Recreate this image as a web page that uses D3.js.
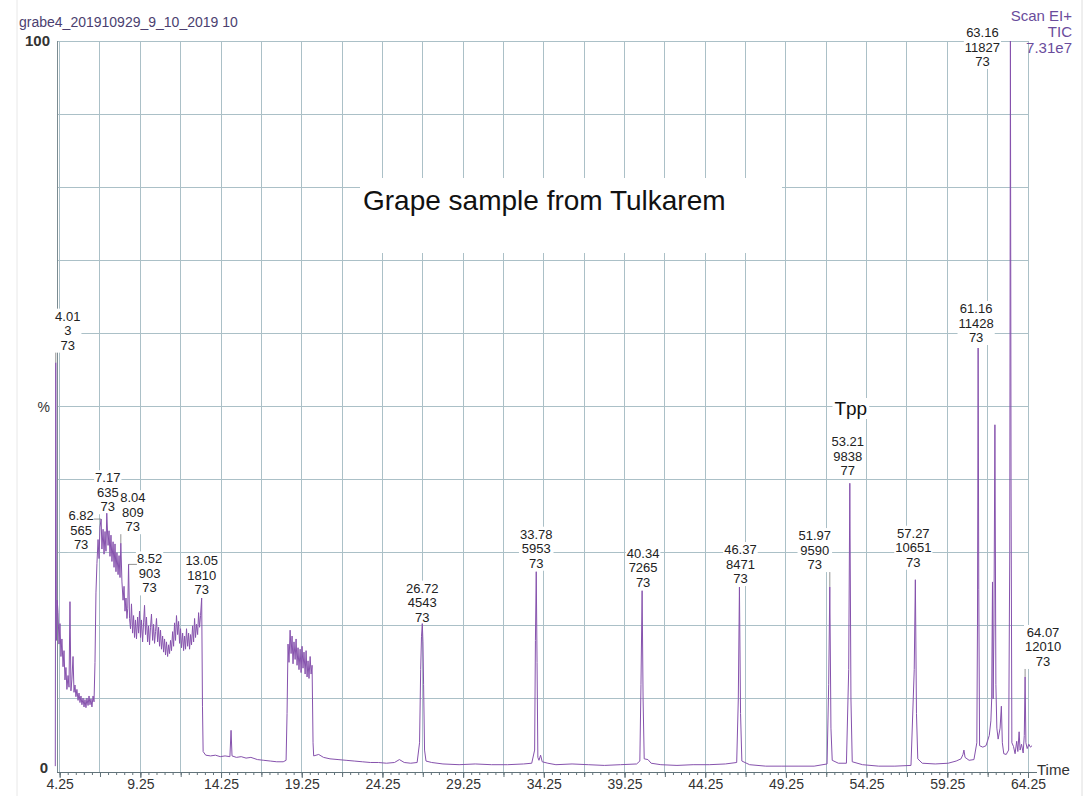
<!DOCTYPE html>
<html>
<head>
<meta charset="utf-8">
<script src="https://cdn.jsdelivr.net/npm/d3@7"></script>
<style>
  body { margin: 0; background: #fff; }
  svg { display: block; font-family: "Liberation Sans", Arial, sans-serif; }
</style>
</head>
<body>
<div id="chart"></div>
<script>
// TIC trace: retention time (min) and relative abundance (%)
const retTime = [
  3.98, 4.01, 4.05, 4.10,
  4.15, 4.21, 4.27, 4.33, 4.39, 4.46, 4.52, 4.58, 4.64, 4.70,
  4.77, 4.83, 4.89, 4.95, 5.01, 5.08, 5.14, 5.20, 5.26, 5.32,
  5.39, 5.45, 5.51, 5.57, 5.63, 5.70, 5.76, 5.82, 5.88, 5.94,
  6.01, 6.07, 6.13, 6.19, 6.25, 6.32, 6.38, 6.44, 6.50, 6.56,
  6.63, 6.69, 6.75, 6.82, 6.87, 6.94, 7.00, 7.06, 7.12, 7.17,
  7.25, 7.31, 7.37, 7.43, 7.49, 7.56, 7.62, 7.68, 7.74, 7.80,
  7.87, 7.93, 7.99, 8.04, 8.11, 8.18, 8.24, 8.30, 8.36, 8.42,
  8.47, 8.52, 8.58, 8.64, 8.70, 8.77, 8.83, 8.89, 8.95, 9.01,
  9.08, 9.14, 9.20, 9.26, 9.32, 9.39, 9.45, 9.51, 9.57, 9.63,
  9.70, 9.76, 9.82, 9.88, 9.94, 10.01, 10.07, 10.13, 10.19, 10.25,
  10.32, 10.38, 10.44, 10.50, 10.56, 10.63, 10.69, 10.75, 10.81, 10.87,
  10.94, 11.00, 11.06, 11.12, 11.18, 11.25, 11.31, 11.37, 11.43, 11.49,
  11.56, 11.62, 11.68, 11.74, 11.80, 11.87, 11.93, 11.99, 12.05, 12.11,
  12.18, 12.24, 12.30, 12.36, 12.42, 12.49, 12.55, 12.61, 12.67, 12.73,
  12.80, 12.86, 12.92, 12.98, 13.05, 13.10, 13.14,
  13.30, 13.60, 13.90, 14.20, 14.50, 14.80, 14.87, 14.93, 15.20, 15.50,
  15.80, 16.10, 16.50, 16.90, 17.30, 17.70, 18.10, 18.28, 18.34,
  18.40, 18.46, 18.53, 18.59, 18.65, 18.71, 18.77, 18.84, 18.90, 18.96,
  19.02, 19.08, 19.15, 19.21, 19.27, 19.33, 19.39, 19.46, 19.52, 19.58,
  19.64, 19.70, 19.77, 19.83, 19.89, 19.95, 19.99,
  20.30, 20.60, 21.00, 21.50, 22.00, 22.50, 23.00, 23.50, 24.00, 24.50,
  25.00, 25.30, 25.60, 26.00, 26.40, 26.55, 26.62, 26.67, 26.72, 26.76,
  26.80, 26.86, 26.95, 27.30, 28.00, 29.00, 30.00, 31.00, 32.00, 33.00,
  33.50, 33.68, 33.73, 33.78, 33.83, 33.88, 33.95, 34.05, 34.15, 34.50,
  35.00, 36.00, 37.00, 38.00, 39.00, 40.00, 40.20, 40.27, 40.34, 40.40,
  40.47, 40.70, 40.90, 41.50, 42.50, 43.50, 44.50, 45.50, 46.20, 46.30,
  46.37, 46.44, 46.52, 47.00, 48.00, 49.00, 50.00, 51.00, 51.80, 51.90,
  51.97, 52.04, 52.12, 52.50, 53.00, 53.14, 53.21, 53.28, 53.36, 54.00,
  55.00, 56.00, 57.00, 57.20, 57.27, 57.34, 57.42, 57.70, 58.50, 59.30,
  59.80, 60.10, 60.22, 60.28, 60.35, 60.60, 60.90, 61.08, 61.12, 61.16,
  61.20, 61.25, 61.45, 61.65, 61.85, 61.95, 62.00, 62.05, 62.09, 62.14,
  62.20, 62.26, 62.32, 62.40, 62.52, 62.60, 62.66, 62.75, 62.90, 63.05,
  63.12, 63.16, 63.20, 63.25, 63.35, 63.45, 63.55, 63.62, 63.70, 63.76,
  63.85, 63.95, 64.02, 64.07, 64.12, 64.20, 64.30, 64.40, 64.50
];
const relAbund = [
  0.8, 56.0, 18.0, 23.5,
  21.8, 17.5, 20.3, 15.8, 18.2, 14.4, 16.6, 12.6, 14.3, 11.3,
  13.2, 11.6, 23.3, 11.1, 12.7, 15.8, 10.9, 11.9, 10.3, 11.3,
  9.8, 10.8, 9.5, 10.4, 9.2, 10.1, 8.9, 9.9, 8.8, 10.1,
  9.1, 10.4, 9.2, 10.0, 8.9, 10.4, 9.6, 15.0, 24.5, 28.5,
  31.8, 29.2, 33.5, 34.6, 30.5, 33.2, 29.8, 32.9, 30.2, 35.4,
  31.0, 33.0, 29.5, 32.4, 28.8, 31.5, 28.0, 31.2, 27.4, 30.0,
  27.0, 29.6, 26.6, 31.3, 26.0, 23.5, 25.4, 22.0, 23.8, 21.0,
  22.4, 28.4, 21.0, 19.6, 23.0, 19.0, 21.4, 18.4, 20.8, 18.2,
  21.2, 19.0, 22.0, 18.4, 20.8, 17.8, 20.4, 22.8, 18.8, 21.2,
  17.8, 20.0, 17.4, 19.8, 21.6, 18.0, 20.2, 17.6, 19.2, 21.0,
  17.8, 19.8, 17.2, 19.4, 16.8, 18.6, 16.4, 18.2, 16.0, 17.8,
  15.8, 17.4, 16.2, 18.0, 16.6, 19.2, 17.2, 20.4, 18.0, 21.4,
  18.8, 20.6, 17.6, 19.6, 17.0, 19.0, 16.6, 18.6, 16.8, 19.6,
  17.2, 19.0, 16.8, 18.8, 17.4, 20.0, 17.8, 21.0, 18.4, 20.2,
  18.8, 21.8, 19.8, 21.4, 23.8, 9.0, 2.8,
  2.3, 2.2, 2.3, 2.1, 2.2, 2.1, 5.7, 2.2, 2.0, 2.1,
  1.9, 2.0, 1.7, 1.6, 1.5, 1.4, 1.4, 1.6, 8.0,
  17.5, 15.0, 19.4, 16.2, 18.6, 14.8, 17.8, 15.4, 18.2, 14.6,
  17.0, 14.0, 16.8, 13.6, 17.2, 14.2, 16.4, 13.4, 16.6, 13.0,
  15.2, 12.8, 15.8, 13.4, 14.6, 4.0, 2.2,
  2.4, 2.0, 1.8, 1.7, 1.6, 1.5, 1.4, 1.3, 1.3, 1.2,
  1.3, 1.7, 1.3, 1.2, 1.3, 4.0, 14.0, 18.5, 20.3, 17.8,
  12.0, 3.0, 1.5, 1.3, 1.1, 1.0, 1.1, 1.0, 1.0, 1.1,
  1.2, 3.0, 18.0, 27.4, 15.0, 2.0, 1.6, 2.3, 1.4, 1.2,
  1.0, 1.1, 1.0, 0.9, 1.0, 1.1, 1.5, 12.0, 24.8, 10.0,
  1.8, 1.7, 1.2, 1.0, 0.9, 1.0, 1.0, 1.1, 1.3, 10.0,
  25.3, 8.0, 1.5, 1.0, 0.8, 0.8, 0.8, 0.8, 1.1, 12.0,
  25.3, 6.0, 1.6, 1.2, 1.2, 14.0, 39.5, 10.0, 1.4, 1.0,
  0.8, 0.8, 0.9, 14.0, 26.3, 8.0, 1.8, 1.2, 1.1, 1.2,
  1.5, 1.8, 2.4, 3.0, 2.0, 1.6, 1.7, 4.0, 20.0, 58.0,
  25.0, 3.6, 3.4, 3.6, 5.0, 7.0, 10.0, 26.0, 10.0, 20.0,
  47.5, 12.0, 6.0, 4.5, 6.0, 9.0, 4.0, 2.5, 2.4, 3.0,
  30.0, 100, 40.0, 4.0, 3.5, 2.5, 4.2, 2.8, 5.5, 3.0,
  3.8, 2.6, 5.0, 13.0, 4.0, 3.2, 3.8, 3.4, 3.6
];

// labelled peaks: retention time / scan number / base peak m/z
const peakRT   = [4.01, 6.82, 7.17, 8.04, 8.52, 13.05, 26.72, 33.78, 40.34, 46.37, 51.97, 53.21, 57.27, 61.16, 63.16, 64.07];
const peakScan = [3, 565, 635, 809, 903, 1810, 4543, 5953, 7265, 8471, 9590, 9838, 10651, 11428, 11827, 12010];
const peakMass = [73, 73, 73, 73, 73, 73, 73, 73, 73, 73, 73, 77, 73, 73, 73, 73];

const xTickValues = [4.25, 9.25, 14.25, 19.25, 24.25, 29.25, 34.25, 39.25, 44.25, 49.25, 54.25, 59.25, 64.25];
const xTickLabels = ["4.25", "9.25", "14.25", "19.25", "24.25", "29.25", "34.25", "39.25", "44.25", "49.25", "54.25", "59.25", "64.25"];

// where each peak label sits relative to its peak top: [dx, dy of last line, leader line]
const labelNudge = {
  "4.01": [12, -13, true], "6.82": [-20, 30, true], "7.17": [1, -2, false], "8.04": [12, -12, true],
  "8.52": [21, 28, true], "13.05": [0, -4, false], "26.72": [0, -2, false], "33.78": [0, -4, false],
  "40.34": [1, -4, false], "46.37": [1, -4, false], "51.97": [-15, -18, true], "53.21": [-2, -8, false],
  "57.27": [-2, -13, false], "61.16": [-2, -6, false], "63.16": [-28, 25, false], "64.07": [18, -11, true]
};

const width = 1087, height = 796;
const gridColor = "#abc0c7";
const traceColor = "#8652ad";

const x = d3.scaleLinear().domain([4.25, 64.25]).range([59.65, 1028]);
const y = d3.scaleLinear().domain([0, 100]).range([772, 41]);
const xStart = 4.086, xEnd = 64.8;

const svg = d3.select("#chart").append("svg")
  .attr("width", width)
  .attr("height", height);

// faint scan edges of the page
svg.append("line").attr("x1", 17).attr("x2", 17).attr("y1", 0).attr("y2", height)
  .attr("stroke", "#e8e8e8");
svg.append("line").attr("x1", 1082).attr("x2", 1082).attr("y1", 0).attr("y2", height)
  .attr("stroke", "#dedede");

// grid: every 2.5 min and every 10 %
const grid = svg.append("g").attr("shape-rendering", "crispEdges");
grid.selectAll("line.v")
  .data(d3.range(4.25, 64.26, 2.5))
  .join("line")
  .attr("class", "v")
  .attr("x1", d => x(d)).attr("x2", d => x(d))
  .attr("y1", y(0)).attr("y2", y(100))
  .attr("stroke", gridColor);
grid.selectAll("line.h")
  .data(d3.range(10, 101, 10))
  .join("line")
  .attr("class", "h")
  .attr("x1", x(xStart)).attr("x2", x(64.25))
  .attr("y1", d => y(d)).attr("y2", d => y(d))
  .attr("stroke", gridColor);

// left axis line
svg.append("line")
  .attr("x1", x(xStart)).attr("x2", x(xStart))
  .attr("y1", y(0)).attr("y2", y(100))
  .attr("stroke", "#7b8c92")
  .attr("shape-rendering", "crispEdges");

// x axis
const xAxisG = svg.append("g").attr("transform", "translate(0," + y(0) + ")");
xAxisG.append("line")
  .attr("x1", x(xStart)).attr("x2", x(xEnd))
  .attr("stroke", "#62737a")
  .attr("shape-rendering", "crispEdges");

const minorG = xAxisG.append("g")
  .call(d3.axisBottom(x).tickValues(d3.range(4.25, 64.3, 0.5)).tickSize(3).tickFormat(""));
const midG = xAxisG.append("g")
  .call(d3.axisBottom(x).tickValues(d3.range(4.25, 64.3, 2.5)).tickSize(5).tickFormat(""));
const majorG = xAxisG.append("g")
  .call(d3.axisBottom(x).tickValues(xTickValues).tickSize(6).tickPadding(1)
    .tickFormat((d, i) => xTickLabels[i]));
[minorG, midG, majorG].forEach(g => {
  g.select(".domain").remove();
  g.selectAll(".tick line").attr("stroke", "#62737a");
});
majorG.selectAll(".tick text")
  .attr("font-size", 14)
  .attr("font-family", "Liberation Sans, Arial, sans-serif")
  .attr("fill", "#333");

svg.append("text")
  .attr("x", 1037).attr("y", 775)
  .attr("font-size", 15).attr("fill", "#333")
  .text("Time");

// y axis labels
const yLab = svg.append("g").attr("text-anchor", "end").attr("fill", "#333");
yLab.append("text").attr("x", 50).attr("y", y(100)).attr("dy", "0.36em")
  .attr("font-size", 15).attr("font-weight", "bold").text("100");
yLab.append("text").attr("x", 48).attr("y", y(0) - 4).attr("dy", "0.36em")
  .attr("font-size", 15).attr("font-weight", "bold").text("0");
yLab.append("text").attr("x", 50).attr("y", y(50)).attr("dy", "0.36em")
  .attr("font-size", 14).text("%");

// header texts
svg.append("text").attr("x", 19).attr("y", 27)
  .attr("font-size", 14).attr("fill", "#4b3f70")
  .text("grabe4_201910929_9_10_2019 10");
const hdr = svg.append("g").attr("text-anchor", "end").attr("font-size", 15).attr("fill", "#6a4c9c");
["Scan EI+", "TIC", "7.31e7"].forEach((s, i) => {
  hdr.append("text").attr("x", 1072).attr("y", 21 + i * 16).text(s);
});

// sample caption in a white box
svg.append("rect")
  .attr("x", 360).attr("y", 178).attr("width", 422).attr("height", 75)
  .attr("fill", "#fff");
svg.append("text")
  .attr("x", 363).attr("y", 210)
  .attr("font-size", 28).attr("fill", "#111")
  .text("Grape sample from Tulkarem");

// peak labels
const traceAt = t => relAbund[d3.minIndex(retTime, r => Math.abs(r - t))];
const lineH = 14.5;
const labels = peakRT.map((rt, i) => {
  const key = rt.toFixed(2);
  const nudge = labelNudge[key];
  const px = x(rt), py = y(traceAt(rt));
  return {
    lines: [key, String(peakScan[i]), String(peakMass[i])],
    px: px, py: py,
    cx: px + nudge[0],
    base: py + nudge[1],
    leader: nudge[2]
  };
});

const bgLayer = svg.append("g");
const traceLayer = svg.append("g");
const textLayer = svg.append("g").attr("font-size", 13).attr("fill", "#222").attr("text-anchor", "middle");

labels.forEach(d => {
  const g = textLayer.append("g");
  d.lines.forEach((s, j) => {
    g.append("text")
      .attr("x", d.cx)
      .attr("y", d.base - (2 - j) * lineH)
      .text(s);
  });
  const bb = g.node().getBBox();
  bgLayer.append("rect")
    .attr("x", bb.x - 1).attr("y", bb.y)
    .attr("width", bb.width + 2).attr("height", bb.height)
    .attr("fill", "#fff");
  if (d.leader) {
    const lx = Math.max(bb.x, Math.min(d.px, bb.x + bb.width));
    const ly = Math.max(bb.y, Math.min(d.py, bb.y + bb.height));
    textLayer.append("line")
      .attr("x1", lx).attr("y1", ly)
      .attr("x2", d.px).attr("y2", d.py)
      .attr("stroke", "#777").attr("stroke-width", 0.8);
  }
});

// Tpp annotation above the 53.21 peak
const tpp = textLayer.append("text")
  .attr("x", x(53.21) + 1).attr("y", 415)
  .attr("font-size", 19).attr("fill", "#111")
  .text("Tpp");
const tb = tpp.node().getBBox();
bgLayer.append("rect")
  .attr("x", tb.x - 2).attr("y", tb.y)
  .attr("width", tb.width + 4).attr("height", tb.height)
  .attr("fill", "#fff");

// the trace
const trace = retTime.map((t, i) => [t, relAbund[i]]);
traceLayer.append("path")
  .datum(trace)
  .attr("fill", "none")
  .attr("stroke", traceColor)
  .attr("stroke-width", 1)
  .attr("stroke-linejoin", "round")
  .attr("d", d3.line().x(d => x(d[0])).y(d => y(d[1])));
</script>
</body>
</html>
